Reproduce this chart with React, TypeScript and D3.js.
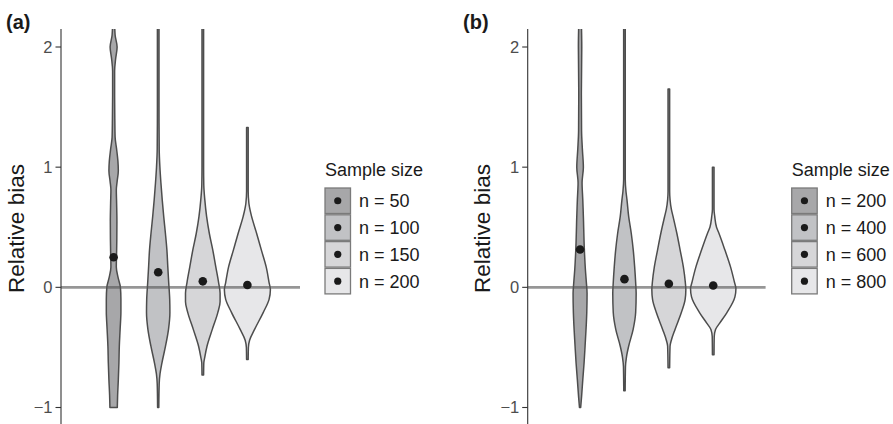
import React from 'react';
import * as d3 from 'd3';

// sample sizes (legend labels) for each panel
const sizesA = ['n = 50', 'n = 100', 'n = 150', 'n = 200'];
const sizesB = ['n = 200', 'n = 400', 'n = 600', 'n = 800'];

// mean relative bias (black dots)
const meansA = [0.25, 0.125, 0.05, 0.02];
const meansB = [0.315, 0.068, 0.03, 0.015];

const yTicks = [-1, 0, 1, 2];

// violin profiles: [relative bias, density]
const densA50 = [
  [2.2, 1.0], [2.1, 1.5], [2.0, 3.5], [1.9, 2.0], [1.8, 1.0], [1.6, 1.0], [1.4, 1.2],
  [1.25, 1.5], [1.15, 3.0], [1.05, 4.3], [0.97, 4.7], [0.88, 3.5], [0.81, 2.7], [0.7, 3.0],
  [0.55, 3.3], [0.4, 3.2], [0.3, 3.0], [0.17, 2.7], [0.08, 4.5], [0.0, 6.8], [-0.1, 7.3],
  [-0.2, 7.3], [-0.35, 6.5], [-0.49, 5.7], [-0.63, 5.3], [-0.77, 4.7], [-0.9, 4.0], [-1.0, 3.7],
];
const densA100 = [
  [2.2, 0.8], [1.5, 0.8], [1.15, 1.0], [1.0, 1.7], [0.87, 2.7], [0.73, 4.0], [0.59, 5.5],
  [0.45, 7.2], [0.31, 8.7], [0.17, 9.6], [0.04, 10.5], [-0.1, 11.5], [-0.21, 11.7],
  [-0.35, 10.3], [-0.49, 7.3], [-0.63, 3.7], [-0.72, 1.8], [-0.8, 1.0], [-1.0, 0.6],
];
const densA150 = [
  [2.2, 0.8], [1.0, 0.8], [0.85, 1.0], [0.73, 2.0], [0.59, 3.8], [0.45, 6.5], [0.31, 10],
  [0.17, 13], [0.04, 15.8], [-0.05, 17.3], [-0.12, 17.3], [-0.21, 15], [-0.35, 9.5],
  [-0.49, 4.2], [-0.58, 2.0], [-0.63, 1.0], [-0.73, 0.8],
];
const densA200 = [
  [1.33, 0.8], [0.8, 0.8], [0.7, 1.5], [0.65, 2.5], [0.59, 4.2], [0.45, 9.2], [0.31, 14],
  [0.17, 18.8], [0.04, 21.7], [-0.02, 23], [-0.1, 21.7], [-0.21, 15.8], [-0.35, 7.2],
  [-0.44, 2.2], [-0.5, 1.0], [-0.6, 0.8],
];
const densB200 = [
  [2.2, 1.3], [2.0, 1.7], [1.6, 1.3], [1.3, 1.5], [1.15, 2.3], [1.0, 3.3], [0.87, 2.0],
  [0.73, 2.7], [0.59, 3.3], [0.31, 4.3], [0.15, 5.3], [0.04, 6.3], [-0.05, 7], [-0.21, 6.7],
  [-0.49, 5.0], [-0.63, 4.0], [-0.77, 2.7], [-0.91, 1.5], [-1.0, 0.6],
];
const densB400 = [
  [2.2, 0.8], [0.9, 0.8], [0.8, 1.5], [0.73, 2.5], [0.59, 4.2], [0.45, 6.8], [0.31, 8.8],
  [0.17, 10.2], [0.04, 11.2], [-0.05, 11.7], [-0.21, 11.2], [-0.35, 8.7], [-0.49, 4.2],
  [-0.58, 2.0], [-0.66, 1.0], [-0.86, 0.7],
];
const densB600 = [
  [1.65, 0.8], [0.8, 0.8], [0.73, 1.2], [0.65, 2.5], [0.59, 4.2], [0.45, 8], [0.31, 11.3],
  [0.17, 14.5], [0.04, 16.5], [-0.02, 17], [-0.1, 16.3], [-0.21, 12.5], [-0.35, 6.2],
  [-0.44, 2.5], [-0.49, 1.2], [-0.67, 0.8],
];
const densB800 = [
  [1.0, 0.8], [0.65, 0.8], [0.59, 1.5], [0.5, 3.3], [0.45, 5.7], [0.31, 11.7], [0.17, 17.3],
  [0.04, 21.3], [-0.01, 22.7], [-0.08, 21.7], [-0.21, 13.7], [-0.3, 6.3], [-0.35, 2.3],
  [-0.41, 1.0], [-0.56, 0.8],
];

const fills = ['#a7a7a9', '#c1c2c5', '#d6d6d8', '#e7e7e9'];
const font = '"Liberation Sans", Arial, Helvetica, sans-serif';

const W = 893;
const H = 424;
const top = 29;

const yScale = d3.scaleLinear().domain([-1, 2]).range([407.5, 47]);
const widthScale = d3.scaleLinear().domain([0, 23]).range([0, 23]);

const panels = [
  { id: 'a', tag: '(a)', tagX: 6, axisX: 61, endX: 300, legendX: 325,
    sizes: sizesA, means: meansA, dens: [densA50, densA100, densA150, densA200] },
  { id: 'b', tag: '(b)', tagX: 463, axisX: 527.7, endX: 765.6, legendX: 791.7,
    sizes: sizesB, means: meansB, dens: [densB200, densB400, densB600, densB800] },
];

function Panel({ p }) {
  const x = d3.scalePoint().domain(p.sizes).range([p.axisX, p.endX]).padding(1.18);

  const violin = (cx) =>
    d3.area()
      .y(d => yScale(d[0]))
      .x0(d => cx - widthScale(d[1]))
      .x1(d => cx + widthScale(d[1]))
      .curve(d3.curveMonotoneY);

  const legendTop = 188;
  const rowH = 26.8;
  const keyS = 25.5;

  return (
    <g>
      <defs>
        <clipPath id={`clip-${p.id}`}>
          <rect x={p.axisX} y={top} width={p.endX - p.axisX + 10} height={H - top} />
        </clipPath>
      </defs>

      <text x={p.tagX} y={29} fontFamily={font} fontWeight="bold" fontSize={20} fill="#1a1a1a">
        {p.tag}
      </text>

      {/* violins */}
      <g clipPath={`url(#clip-${p.id})`}>
        {p.sizes.map((s, i) => (
          <path key={s} d={violin(x(s))(p.dens[i])} fill={fills[i]}
            stroke="#4d4d4d" strokeWidth={1.5} strokeLinejoin="round" />
        ))}
      </g>

      {/* reference line at zero */}
      <line x1={p.axisX} x2={p.endX} y1={yScale(0)} y2={yScale(0)}
        stroke="#555" strokeOpacity={0.62} strokeWidth={2.6} />

      {/* means */}
      {p.sizes.map((s, i) => (
        <circle key={s} cx={x(s)} cy={yScale(p.means[i])} r={4.3} fill="#1a1a1a" />
      ))}

      {/* y axis */}
      <line x1={p.axisX} x2={p.axisX} y1={top} y2={H} stroke="#333" strokeWidth={1.1} />
      {yTicks.map(t => (
        <g key={t}>
          <line x1={p.axisX - 5.5} x2={p.axisX} y1={yScale(t)} y2={yScale(t)} stroke="#333" strokeWidth={1.1} />
          <text x={p.axisX - 8.5} y={yScale(t)} dy="0.36em" textAnchor="end"
            fontFamily={font} fontSize={16.5} fill="#4d4d4d">
            {t < 0 ? `\u2212${-t}` : t}
          </text>
        </g>
      ))}
      <text transform={`translate(${p.axisX - 37.5},${(top + H) / 2 + 2}) rotate(-90)`}
        textAnchor="middle" fontFamily={font} fontSize={22.5} fill="#1a1a1a">
        Relative bias
      </text>

      {/* legend */}
      <text x={p.legendX} y={176} fontFamily={font} fontSize={18} fill="#1a1a1a">Sample size</text>
      {p.sizes.map((s, i) => {
        const y0 = legendTop + i * rowH;
        return (
          <g key={s}>
            <rect x={p.legendX} y={y0} width={keyS} height={keyS} fill={fills[i]}
              stroke="#7a7a7a" strokeWidth={1.3} />
            <circle cx={p.legendX + keyS / 2} cy={y0 + keyS / 2} r={3.6} fill="#1a1a1a" />
            <text x={p.legendX + 34} y={y0 + keyS / 2} dy="0.36em" fontFamily={font}
              fontSize={18} fill="#1a1a1a">{s}</text>
          </g>
        );
      })}
    </g>
  );
}

export default function App() {
  return (
    <svg width={W} height={H} style={{ position: 'absolute', left: 0, top: 0, display: 'block' }}>
      <rect width={W} height={H} fill="#fff" />
      {panels.map(p => <Panel key={p.id} p={p} />)}
    </svg>
  );
}
